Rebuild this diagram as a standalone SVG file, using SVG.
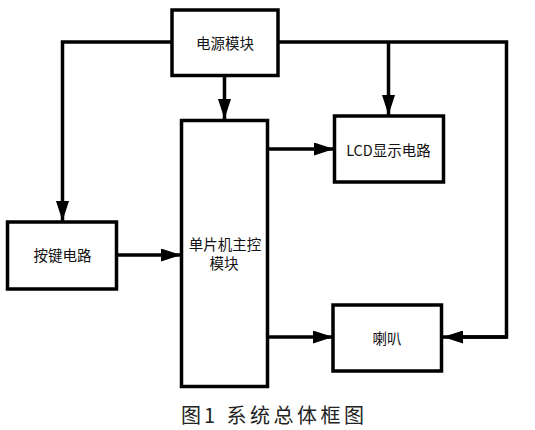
<svg xmlns="http://www.w3.org/2000/svg" width="535" height="430" viewBox="0 0 535 430">
<defs>
<marker id="ah" viewBox="0 0 20 13" refX="20" refY="6.5" markerWidth="20" markerHeight="13" markerUnits="userSpaceOnUse" orient="auto">
<path d="M0,0 L20,6.5 L0,13 Z" fill="#000"/>
</marker>
<style>
.box{fill:#fff;stroke:#000;stroke-width:3.5}
.lbl{font-family:"Noto Sans CJK SC","Liberation Sans",sans-serif;font-size:14.5px;fill:#111;text-anchor:middle;dominant-baseline:central}
.ln{fill:none;stroke:#000;stroke-width:3.5}
.arr{fill:none;stroke:#000;stroke-width:3.5;marker-end:url(#ah)}
.cap{font-family:"Noto Sans CJK SC","Liberation Serif",serif;font-size:20px;fill:#222;dominant-baseline:central}
</style>
</defs>
<rect width="535" height="430" fill="#fff"/>
<g id="connectors">
<path class="arr" d="M172,42 H62.5 V221"/>
<path class="arr" d="M224.5,76 V119"/>
<path class="ln" d="M278,42 H506.5 V337 H460"/>
<path class="arr" d="M507,337 H443"/>
<path class="arr" d="M388.5,42 V115"/>
<path class="arr" d="M268,149 H334"/>
<path class="arr" d="M117,255 H181"/>
<path class="arr" d="M268,337 H333"/>
</g>
<g id="power">
<rect class="box" x="172" y="10" width="106" height="65.5"/>
<text class="lbl" x="225" y="42">电源模块</text>
</g>
<g id="mcu">
<rect class="box" x="181.5" y="120.5" width="86" height="266"/>
<text class="lbl" x="225" y="243">单片机主控</text>
<text class="lbl" x="224" y="262">模块</text>
</g>
<g id="lcd">
<rect class="box" x="334.5" y="116" width="109" height="66"/>
<text class="lbl" x="388.5" y="149">LCD显示电路</text>
</g>
<g id="keys">
<rect class="box" x="7.5" y="222" width="109" height="67"/>
<text class="lbl" x="62.5" y="254">按键电路</text>
</g>
<g id="speaker">
<rect class="box" x="333" y="305" width="108.5" height="66"/>
<text class="lbl" x="387" y="337">喇叭</text>
</g>
<g id="caption">
<text class="cap" x="181" y="414" letter-spacing="3">图1</text>
<text class="cap" x="226.5" y="414" letter-spacing="3.5">系统总体框图</text>
</g>
</svg>
